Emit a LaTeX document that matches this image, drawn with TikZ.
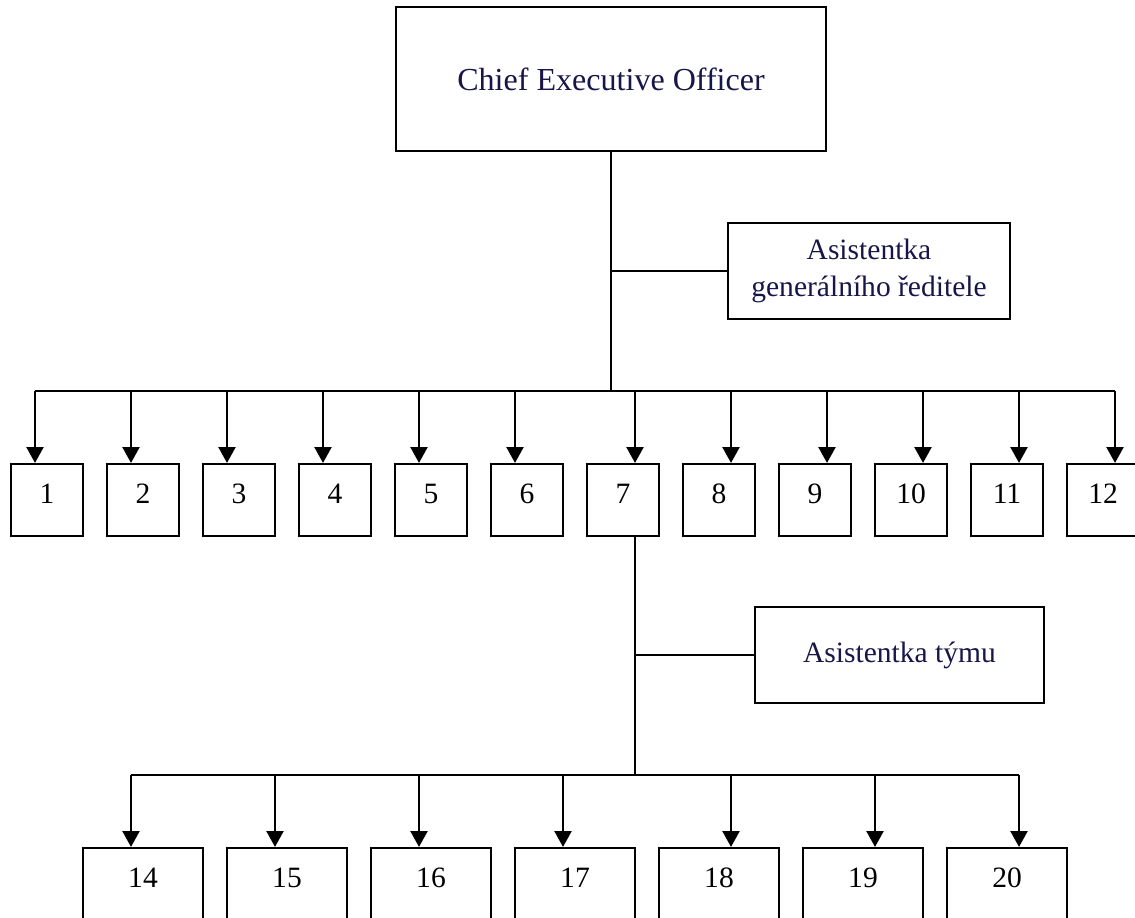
\documentclass[tikz,border=0pt]{standalone}
\usepackage{tikz}
\usetikzlibrary{arrows.meta}
\usepackage{xcolor}
\usepackage{fontspec}
\setmainfont{Liberation Serif}
\definecolor{navytext}{RGB}{22,22,72}
\tikzset{%
	head box/.style={
		rectangle,
		draw,
		line width=1.4pt,
		inner sep=0pt,
		text=navytext,
		align=center,
		font=\fontsize{21}{26}\selectfont
	},
	unit box/.style={
		rectangle,
		draw,
		line width=1.4pt,
		inner sep=0pt,
		anchor=north,
		minimum width=1.8cm,
		text height=0.975cm,
		text depth=0.825cm,
		font=\fontsize{21}{26}\selectfont
	},
	team box/.style={
		unit box,
		minimum width=3cm,
		text depth=1.525cm
	},
	link/.style={line width=1.4pt},
	link arrow/.style={
		line width=2.1pt,
		-{Triangle[length=0.4cm,width=0.42cm]}
	},
}
\begin{document}
\begin{tikzpicture}[x=0.025cm, y=-0.025cm]
	\clip (0,0) rectangle (1135,917);
	
	% Draw the chief executive box
	\node[head box, minimum width=10.75cm, minimum height=3.6cm, font=\fontsize{22.8}{27}\selectfont] (ceo) at (611,79) {Chief Executive Officer};
	
	% Draw the assistant of the chief
	\node[head box, minimum width=7.05cm, minimum height=2.4cm] (asgr) at (869,271) {Asistentka\\generálního ředitele};
	
	% Draw the first row of units
	\node[unit box] (u1) at (47,463) {1};
	\node[unit box] (u2) at (143,463) {2};
	\node[unit box] (u3) at (239,463) {3};
	\node[unit box] (u4) at (335,463) {4};
	\node[unit box] (u5) at (431,463) {5};
	\node[unit box] (u6) at (527,463) {6};
	\node[unit box] (u7) at (623,463) {7};
	\node[unit box] (u8) at (719,463) {8};
	\node[unit box] (u9) at (815,463) {9};
	\node[unit box] (u10) at (911,463) {10};
	\node[unit box] (u11) at (1007,463) {11};
	\node[unit box] (u12) at (1103,463) {12};
	
	% Draw the lines from the chief
	\coordinate (busA) at (611,391);
	\draw[link] (ceo.south) -- (busA);
	\draw[link] (asgr.west) -- (asgr.west -| ceo.south);
	\draw[link] ([xshift=-0.3cm]u1.north |- busA) -- ([xshift=0.3cm]u12.north |- busA);
	
	% Draw the arrows
	\draw[link arrow] ([xshift=-0.3cm]u1.north |- busA) -- ([xshift=-0.3cm]u1.north);
	\draw[link arrow] ([xshift=-0.3cm]u2.north |- busA) -- ([xshift=-0.3cm]u2.north);
	\draw[link arrow] ([xshift=-0.3cm]u3.north |- busA) -- ([xshift=-0.3cm]u3.north);
	\draw[link arrow] ([xshift=-0.3cm]u4.north |- busA) -- ([xshift=-0.3cm]u4.north);
	\draw[link arrow] ([xshift=-0.3cm]u5.north |- busA) -- ([xshift=-0.3cm]u5.north);
	\draw[link arrow] ([xshift=-0.3cm]u6.north |- busA) -- ([xshift=-0.3cm]u6.north);
	\draw[link arrow] ([xshift=0.3cm]u7.north |- busA) -- ([xshift=0.3cm]u7.north);
	\draw[link arrow] ([xshift=0.3cm]u8.north |- busA) -- ([xshift=0.3cm]u8.north);
	\draw[link arrow] ([xshift=0.3cm]u9.north |- busA) -- ([xshift=0.3cm]u9.north);
	\draw[link arrow] ([xshift=0.3cm]u10.north |- busA) -- ([xshift=0.3cm]u10.north);
	\draw[link arrow] ([xshift=0.3cm]u11.north |- busA) -- ([xshift=0.3cm]u11.north);
	\draw[link arrow] ([xshift=0.3cm]u12.north |- busA) -- ([xshift=0.3cm]u12.north);
	
	% Draw the team assistant
	\node[head box, minimum width=7.225cm, minimum height=2.4cm] (asteam) at (899.5,655) {Asistentka týmu};
	
	% Draw the second row of units
	\node[team box] (u14) at (143,847) {14};
	\node[team box] (u15) at (287,847) {15};
	\node[team box] (u16) at (431,847) {16};
	\node[team box] (u17) at (575,847) {17};
	\node[team box] (u18) at (719,847) {18};
	\node[team box] (u19) at (863,847) {19};
	\node[team box] (u20) at (1007,847) {20};
	
	% Draw the lines from unit 7
	\coordinate (busB) at (635,775);
	\draw[link] ([xshift=0.3cm]u7.south) -- (busB);
	\draw[link] (asteam.west) -- (asteam.west -| busB);
	\draw[link] ([xshift=-0.3cm]u14.north |- busB) -- ([xshift=0.3cm]u20.north |- busB);
	
	% Draw the arrows
	\draw[link arrow] ([xshift=-0.3cm]u14.north |- busB) -- ([xshift=-0.3cm]u14.north);
	\draw[link arrow] ([xshift=-0.3cm]u15.north |- busB) -- ([xshift=-0.3cm]u15.north);
	\draw[link arrow] ([xshift=-0.3cm]u16.north |- busB) -- ([xshift=-0.3cm]u16.north);
	\draw[link arrow] ([xshift=-0.3cm]u17.north |- busB) -- ([xshift=-0.3cm]u17.north);
	\draw[link arrow] ([xshift=0.3cm]u18.north |- busB) -- ([xshift=0.3cm]u18.north);
	\draw[link arrow] ([xshift=0.3cm]u19.north |- busB) -- ([xshift=0.3cm]u19.north);
	\draw[link arrow] ([xshift=0.3cm]u20.north |- busB) -- ([xshift=0.3cm]u20.north);
	
\end{tikzpicture}
\end{document}
